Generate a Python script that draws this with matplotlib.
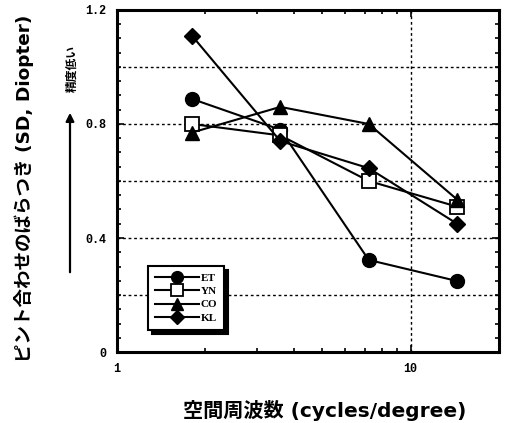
import matplotlib
matplotlib.use("Agg")
import matplotlib.pyplot as plt
from matplotlib.ticker import FixedLocator, MultipleLocator, NullFormatter, FixedFormatter, LogLocator

freq = [1.8, 3.6, 7.2, 14.4]
series_names = ["ET", "YN", "CO", "KL"]
et = [0.888, 0.78, 0.323, 0.249]
yn = [0.80, 0.76, 0.60, 0.51]
co = [0.77, 0.86, 0.80, 0.535]
kl = [1.11, 0.74, 0.645, 0.45]
yticks = [0, 0.4, 0.8, 1.2]
ytick_labels = ["0", "0.4", "0.8", "1.2"]
xticks = [1, 10]
xtick_labels = ["1", "10"]
grid_y = [0.2, 0.4, 0.6, 0.8, 1.0]
grid_x = [10]

fig = plt.figure(figsize=(5.05, 4.23), dpi=100)
ax = fig.add_axes([117/505, 71/423, 382/505, 342/423])

styles = [
    dict(marker="o", markersize=10, markerfacecolor="black"),
    dict(marker="s", markersize=10, markerfacecolor="white", markeredgewidth=1.3),
    dict(marker="^", markersize=10, markerfacecolor="black"),
    dict(marker="D", markersize=8.5, markerfacecolor="black"),
]
for name, vals, st in zip(series_names, [et, yn, co, kl], styles):
    ax.plot(freq, vals, color="black", lw=1.5, markeredgecolor="black", label=name, **st)

for g in grid_y:
    ax.axhline(g, color="black", lw=1.0, ls=(0, (2, 2)), zorder=0)
for g in grid_x:
    ax.axvline(g, color="black", lw=1.0, ls=(0, (2, 2)), zorder=0)

ax.set_xscale("log")
ax.set_xlim(1, 20)
ax.set_ylim(0, 1.2)
ax.xaxis.set_major_locator(FixedLocator(xticks))
ax.xaxis.set_major_formatter(FixedFormatter(xtick_labels))
ax.xaxis.set_minor_locator(LogLocator(base=10, subs=range(2, 10)))
ax.xaxis.set_minor_formatter(NullFormatter())
ax.yaxis.set_major_locator(FixedLocator(yticks))
ax.yaxis.set_major_formatter(FixedFormatter(ytick_labels))
ax.yaxis.set_minor_locator(MultipleLocator(0.05))

ax.tick_params(which="both", direction="in", top=True, right=True, width=1.2)
ax.tick_params(which="major", length=5)
ax.tick_params(which="minor", length=3)
ax.tick_params(axis="y", pad=8)
ax.tick_params(axis="x", pad=8)
for lab in ax.get_xticklabels() + ax.get_yticklabels():
    lab.set_family("Liberation Mono")
    lab.set_fontsize(8.5)
    lab.set_fontweight("bold")
for sp in ax.spines.values():
    sp.set_linewidth(2.2)

leg = ax.legend(loc="lower left", bbox_to_anchor=(0.08, 0.065), frameon=True, fancybox=False,
                shadow={"color": "black", "alpha": 1, "ox": 3, "oy": -3}, edgecolor="black",
                prop={"family": "Liberation Serif", "weight": "bold", "size": 8},
                handlelength=4.0, handletextpad=0.1, labelspacing=0.3, borderpad=0.65,
                borderaxespad=0, markerscale=0.85)
leg.get_frame().set_linewidth(1.5)
leg.get_frame().set_alpha(1)

cjk = ["DejaVu Sans", "Noto Sans CJK JP"]
fig.text(24/505, 1 - 188/423, "ピント合わせのばらつき (SD, Diopter)", rotation=90,
         ha="center", va="center", family=cjk, fontsize=13.3, fontweight="bold")
fig.text(325/505, 1 - 410/423, "空間周波数 (cycles/degree)", ha="center", va="center",
         family=cjk, fontsize=14.5, fontweight="bold")
fig.text(72/505, 1 - 69/423, "精度低い", rotation=90, ha="center", va="center",
         family=["Noto Sans CJK JP"], fontsize=8.5, fontweight="bold")
fig.add_artist(matplotlib.patches.FancyArrowPatch((70/505, 1 - 275/423), (70/505, 1 - 110/423),
               transform=fig.transFigure, arrowstyle="-|>", mutation_scale=12,
               color="black", lw=1.6))

fig.savefig("out.png", dpi=100)
